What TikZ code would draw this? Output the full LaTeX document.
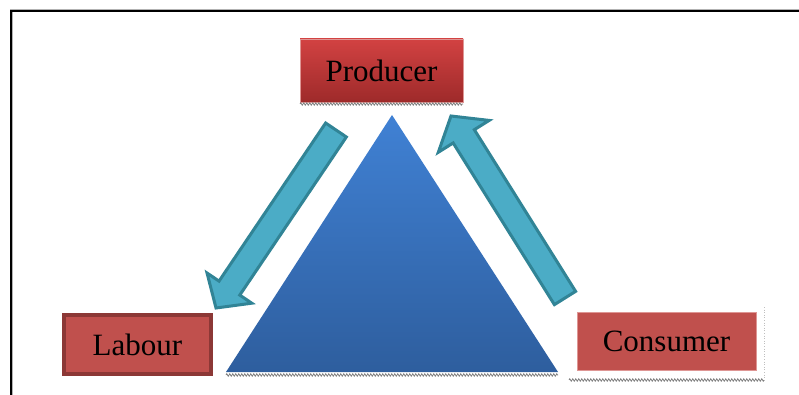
\documentclass[tikz,border=0pt]{standalone}
\usepackage{fontspec}
\setmainfont{Liberation Serif}
\usetikzlibrary{calc,decorations.pathmorphing}
\definecolor{prodtop}{RGB}{210,66,66}
\definecolor{prodbot}{RGB}{158,42,42}
\definecolor{boxred}{RGB}{192,80,77}
\definecolor{boxdark}{RGB}{140,56,54}
\definecolor{boxedge}{RGB}{222,150,148}
\definecolor{tritop}{RGB}{64,129,212}
\definecolor{tribot}{RGB}{46,94,158}
\definecolor{arrowfill}{RGB}{75,172,198}
\definecolor{arrowedge}{RGB}{49,132,150}
\begin{document}
\begin{tikzpicture}[x=1pt,y=-1pt,
  lbl/.style={font=\fontsize{31}{36}\selectfont, text=black, inner sep=0pt},
  prodbox/.style={lbl, rectangle, top color=prodtop, bottom color=prodbot, draw=boxedge, line width=0.8pt, minimum width=163pt, minimum height=63pt},
  labbox/.style={lbl, rectangle, fill=boxred, draw=boxdark, line width=4pt, minimum width=147pt, minimum height=59pt},
  conbox/.style={lbl, rectangle, fill=boxred, draw=boxedge, line width=0.8pt, minimum width=179pt, minimum height=58pt},
  blockarrow/.style={fill=arrowfill, draw=arrowedge, line width=3pt, line join=miter},
  squiggle/.style={draw=gray, line width=0.8pt, decorate, decoration={zigzag, segment length=3pt, amplitude=1.2pt}}
]
\useasboundingbox (0,0) rectangle (799,395);
\fill[white] (0,0) rectangle (799,395);
% frame
\draw[line width=3pt, gray!60] (799,11) -- (11,11) -- (11,395);
\draw[line width=1.8pt, black] (799,11) -- (11,11) -- (11,395);

% triangle
\shade[top color=tritop, bottom color=tribot] (392,115) -- (558,372) -- (226,372) -- cycle;
\draw[squiggle] (226,375) -- (558,375);

% boxes
\node[prodbox] (prod) at (381.5,70.5) {Producer};
\draw[squiggle] (300,104) -- (463,104);
\node[labbox] (lab) at (137.5,344.5) {Labour};
\node[conbox] (con) at (666.5,341) {Consumer};
\draw[squiggle] (569,380) -- (764,380);
\draw[gray!50, dotted, line width=0.6pt] (764,307) -- (764,380);

% left block arrow (down-left)
\coordinate (la) at (336,130);
\coordinate (lb) at (216,308);
\coordinate (ln) at ($(lb)!24pt!(la)$);
\draw[blockarrow] ($(la)!12.5pt!90:(lb)$) -- ($(ln)!12.5pt!-90:(la)$) -- ($(ln)!27pt!-90:(la)$) -- (lb) -- ($(ln)!27pt!90:(la)$) -- ($(ln)!12.5pt!90:(la)$) -- ($(la)!12.5pt!-90:(lb)$) -- cycle;

% right block arrow (up-left)
\coordinate (ra) at (565,298);
\coordinate (rb) at (451,116);
\coordinate (rn) at ($(rb)!24pt!(ra)$);
\draw[blockarrow] ($(ra)!12.5pt!90:(rb)$) -- ($(rn)!12.5pt!-90:(ra)$) -- ($(rn)!30pt!-90:(ra)$) -- (rb) -- ($(rn)!30pt!90:(ra)$) -- ($(rn)!12.5pt!90:(ra)$) -- ($(ra)!12.5pt!-90:(rb)$) -- cycle;
\end{tikzpicture}
\end{document}
